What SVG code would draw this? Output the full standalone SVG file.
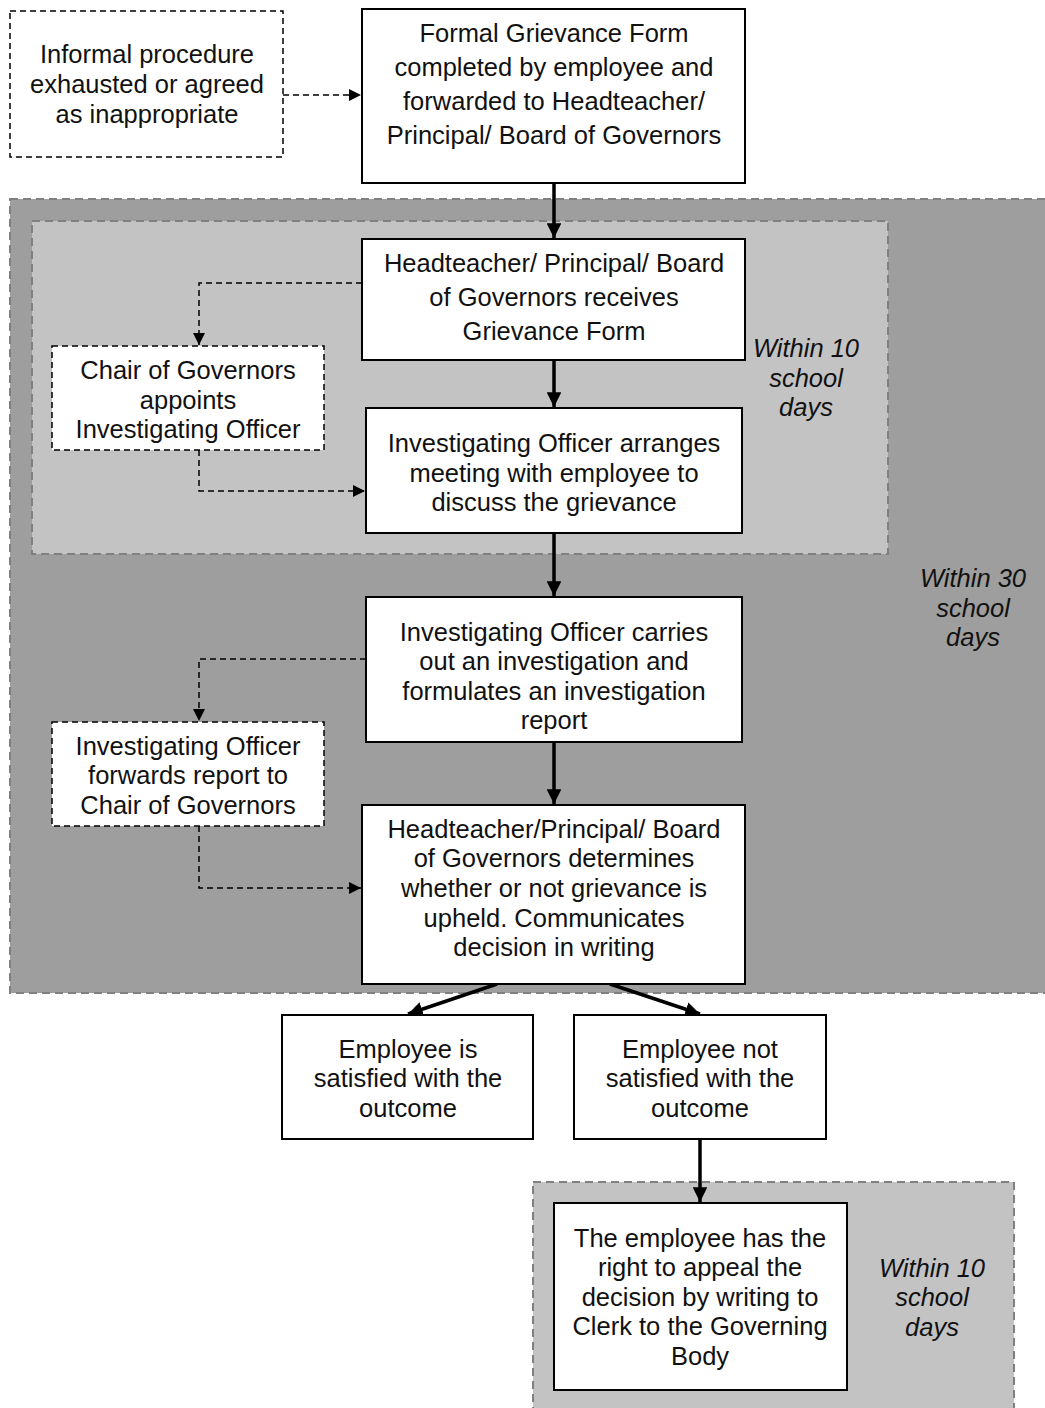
<svg xmlns="http://www.w3.org/2000/svg" width="1045" height="1408" viewBox="0 0 1045 1408">
<defs>
<style>
.box{fill:#fff;stroke:#000;stroke-width:2}
.dbox{fill:#fff;stroke:#000;stroke-width:1.5;stroke-dasharray:6,4}
.panel{stroke:#808080;stroke-width:2;stroke-dasharray:8,5}
.t{font-family:"Liberation Sans",Arial,sans-serif;font-size:25.5px;fill:#111;text-anchor:middle}
.it{font-style:italic}
.solid{fill:none;stroke:#000;stroke-width:3.5}
.dash{fill:none;stroke:#000;stroke-width:1.5;stroke-dasharray:6,4}
</style>
<marker id="ah" viewBox="0 0 10 10" refX="10" refY="5" markerWidth="4.2" markerHeight="4.2" markerUnits="strokeWidth" orient="auto"><path d="M0,0L10,5L0,10z" fill="#000"/></marker>
<marker id="ahd" viewBox="0 0 10 10" refX="10" refY="5" markerWidth="8" markerHeight="8" markerUnits="strokeWidth" orient="auto"><path d="M0,0L10,5L0,10z" fill="#000"/></marker>
</defs>
<g id="panels">
<rect class="panel" x="10" y="199" width="1040" height="794" fill="#9e9e9e"/>
<rect class="panel" x="32" y="221" width="856" height="333" fill="#c3c3c3"/>
<rect class="panel" x="533" y="1182" width="481" height="240" fill="#c3c3c3"/>
<text class="t it" x="806" y="357">Within 10</text>
<text class="t it" x="806" y="387">school</text>
<text class="t it" x="806" y="416">days</text>
<text class="t it" x="973" y="587">Within 30</text>
<text class="t it" x="973" y="617">school</text>
<text class="t it" x="973" y="646">days</text>
<text class="t it" x="932" y="1277">Within 10</text>
<text class="t it" x="932" y="1306">school</text>
<text class="t it" x="932" y="1336">days</text>
</g>
<g id="connectors">
<path class="dash" d="M283,95H361" marker-end="url(#ahd)"/>
<path class="solid" d="M554,183V238" marker-end="url(#ah)"/>
<path class="solid" d="M554,360V407" marker-end="url(#ah)"/>
<path class="dash" d="M362,283H199V345" marker-end="url(#ahd)"/>
<path class="dash" d="M199,450V491H365" marker-end="url(#ahd)"/>
<path class="solid" d="M554,533V596" marker-end="url(#ah)"/>
<path class="dash" d="M366,659H199V721" marker-end="url(#ahd)"/>
<path class="dash" d="M199,826V888H361" marker-end="url(#ahd)"/>
<path class="solid" d="M554,742V804" marker-end="url(#ah)"/>
<path class="solid" d="M497,984L408,1014" marker-end="url(#ah)"/>
<path class="solid" d="M610,984L700,1014" marker-end="url(#ah)"/>
<path class="solid" d="M700,1139V1202" marker-end="url(#ah)"/>
</g>
<g id="n-informal">
<rect class="dbox" x="10" y="11" width="273" height="146"/>
<text class="t" x="147" y="63">Informal procedure</text>
<text class="t" x="147" y="93">exhausted or agreed</text>
<text class="t" x="147" y="123">as inappropriate</text>
</g>
<g id="n-formal">
<rect class="box" x="362" y="9" width="383" height="174"/>
<text class="t" x="554" y="42">Formal Grievance Form</text>
<text class="t" x="554" y="76">completed by employee and</text>
<text class="t" x="554" y="110">forwarded to Headteacher/</text>
<text class="t" x="554" y="144">Principal/ Board of Governors</text>
</g>
<g id="n-receives">
<rect class="box" x="362" y="239" width="383" height="121"/>
<text class="t" x="554" y="272">Headteacher/ Principal/ Board</text>
<text class="t" x="554" y="306">of Governors receives</text>
<text class="t" x="554" y="340">Grievance Form</text>
</g>
<g id="n-chair">
<rect class="dbox" x="52" y="346" width="272" height="104"/>
<text class="t" x="188" y="379">Chair of Governors</text>
<text class="t" x="188" y="409">appoints</text>
<text class="t" x="188" y="438">Investigating Officer</text>
</g>
<g id="n-arranges">
<rect class="box" x="366" y="408" width="376" height="125"/>
<text class="t" x="554" y="452">Investigating Officer arranges</text>
<text class="t" x="554" y="482">meeting with employee to</text>
<text class="t" x="554" y="511">discuss the grievance</text>
</g>
<g id="n-carries">
<rect class="box" x="366" y="597" width="376" height="145"/>
<text class="t" x="554" y="641">Investigating Officer carries</text>
<text class="t" x="554" y="670">out an investigation and</text>
<text class="t" x="554" y="700">formulates an investigation</text>
<text class="t" x="554" y="729">report</text>
</g>
<g id="n-forwards">
<rect class="dbox" x="52" y="722" width="272" height="104"/>
<text class="t" x="188" y="755">Investigating Officer</text>
<text class="t" x="188" y="784">forwards report to</text>
<text class="t" x="188" y="814">Chair of Governors</text>
</g>
<g id="n-determines">
<rect class="box" x="362" y="805" width="383" height="179"/>
<text class="t" x="554" y="838">Headteacher/Principal/ Board</text>
<text class="t" x="554" y="867">of Governors determines</text>
<text class="t" x="554" y="897">whether or not grievance is</text>
<text class="t" x="554" y="927">upheld. Communicates</text>
<text class="t" x="554" y="956">decision in writing</text>
</g>
<g id="n-satisfied">
<rect class="box" x="282" y="1015" width="251" height="124"/>
<text class="t" x="408" y="1058">Employee is</text>
<text class="t" x="408" y="1087">satisfied with the</text>
<text class="t" x="408" y="1117">outcome</text>
</g>
<g id="n-notsatisfied">
<rect class="box" x="574" y="1015" width="252" height="124"/>
<text class="t" x="700" y="1058">Employee not</text>
<text class="t" x="700" y="1087">satisfied with the</text>
<text class="t" x="700" y="1117">outcome</text>
</g>
<g id="n-appeal">
<rect class="box" x="554" y="1203" width="293" height="187"/>
<text class="t" x="700" y="1247">The employee has the</text>
<text class="t" x="700" y="1276">right to appeal the</text>
<text class="t" x="700" y="1306">decision by writing to</text>
<text class="t" x="700" y="1335">Clerk to the Governing</text>
<text class="t" x="700" y="1365">Body</text>
</g>
</svg>
